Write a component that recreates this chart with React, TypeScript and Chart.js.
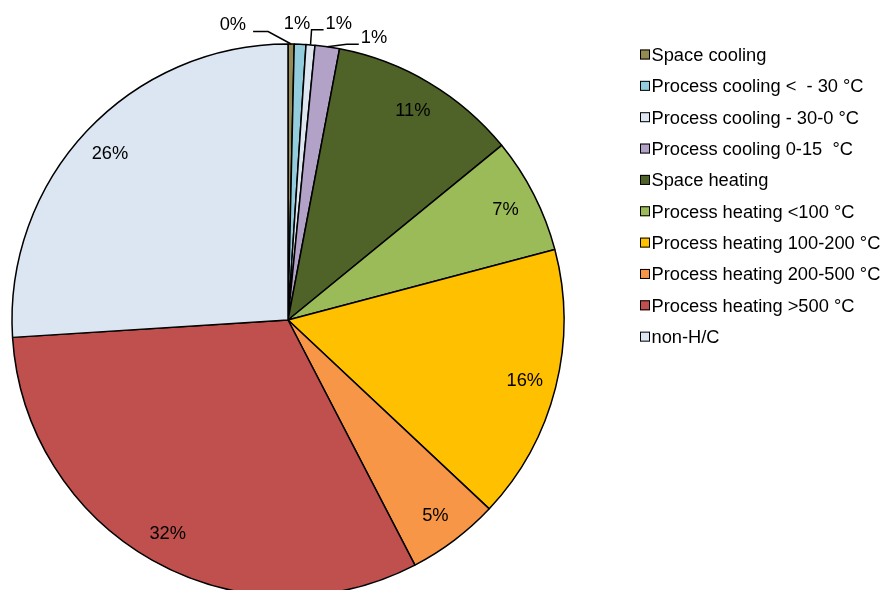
import React, { useEffect, useRef } from "react";
import { Chart, registerables } from "chart.js";

Chart.register(...registerables);

const categories = [
  "Space cooling",
  "Process cooling <  - 30 °C",
  "Process cooling - 30-0 °C",
  "Process cooling 0-15  °C",
  "Space heating",
  "Process heating <100 °C",
  "Process heating 100-200 °C",
  "Process heating 200-500 °C",
  "Process heating >500 °C",
  "non-H/C",
];

const shares = [0.36, 0.68, 0.52, 1.43, 11.1, 6.8, 16.1, 5.4, 31.6, 26.0];

const sliceColors = [
  "#948A54",
  "#93CDDD",
  "#DDE6F1",
  "#B3A2C7",
  "#4F6228",
  "#9BBB59",
  "#FFC000",
  "#F79646",
  "#C0504D",
  "#DCE6F2",
];

// Placement of labels that sit outside their slice (angle offset in degrees from slice middle, radius in px)
const outsidePlacement: Record<number, { offset: number; r: number; side?: "left" | "right" }> = {
  0: { offset: -11.2, r: 301, side: "right" },
  1: { offset: -0.8, r: 298 },
  2: { offset: 5.0, r: 302, side: "left" },
  3: { offset: 8.7, r: 296, side: "left" },
};

const FONT = '18.3px "Liberation Sans", Arial, sans-serif';

const sliceLabelPlugin = {
  id: "sliceLabels",
  afterDatasetsDraw(chart: any) {
    const ctx = chart.ctx;
    const meta = chart.getDatasetMeta(0);
    const total = shares.reduce((a, b) => a + b, 0);
    ctx.save();
    ctx.font = FONT;
    ctx.fillStyle = "#000";
    ctx.strokeStyle = "#000";
    ctx.lineWidth = 1.5;
    ctx.textAlign = "center";
    ctx.textBaseline = "alphabetic";
    meta.data.forEach((arc: any, i: number) => {
      const { x, y, startAngle, endAngle, outerRadius } = arc.getProps(
        ["x", "y", "startAngle", "endAngle", "outerRadius"],
        true
      );
      const mid = (startAngle + endAngle) / 2;
      const text = Math.round((shares[i] / total) * 100) + "%";
      const w = ctx.measureText(text).width;
      const out = outsidePlacement[i];
      if (!out) {
        const r = outerRadius * 0.885;
        const cx = x + Math.cos(mid) * r;
        const cy = y + Math.sin(mid) * r;
        ctx.fillText(text, cx, cy + 6.4);
      } else {
        const a = mid + (out.offset * Math.PI) / 180;
        const cx = x + Math.cos(a) * out.r;
        const cy = y + Math.sin(a) * out.r;
        ctx.fillText(text, cx, cy + 6.4);
        if (out.side) {
          const ax = x + Math.cos(mid) * outerRadius;
          const ay = y + Math.sin(mid) * outerRadius;
          const ly = cy + 7.5;
          let sx: number, ex: number;
          if (out.side === "right") {
            sx = cx + w / 2 + 7;
            ex = sx + 15;
          } else {
            sx = cx - w / 2 - 2;
            ex = sx - 12;
          }
          ctx.beginPath();
          ctx.moveTo(sx, ly);
          ctx.lineTo(ex, ly);
          ctx.lineTo(ax, ay);
          ctx.stroke();
        }
      }
    });
    ctx.restore();
  },
};

const legendPlugin = {
  id: "sideLegend",
  afterDraw(chart: any) {
    const ctx = chart.ctx;
    const labels: string[] = chart.data.labels;
    const colors: string[] = chart.data.datasets[0].backgroundColor;
    ctx.save();
    ctx.font = FONT;
    ctx.textAlign = "left";
    ctx.textBaseline = "alphabetic";
    labels.forEach((lab, i) => {
      const cy = 54.5 + i * 31.35;
      ctx.fillStyle = colors[i];
      ctx.fillRect(640, cy - 5, 10, 10);
      ctx.strokeStyle = "#000";
      ctx.lineWidth = 1;
      ctx.strokeRect(640.5, cy - 4.5, 9, 9);
      ctx.fillStyle = "#000";
      ctx.fillText(lab, 651.5, cy + 6.4);
    });
    ctx.restore();
  },
};

export default function App() {
  const ref = useRef<HTMLCanvasElement | null>(null);
  useEffect(() => {
    if (!ref.current) return;
    const chart = new Chart(ref.current, {
      type: "pie",
      data: {
        labels: categories,
        datasets: [
          {
            data: shares,
            backgroundColor: sliceColors,
            borderColor: "#000",
            borderWidth: 1.5,
            radius: 276,
            clip: false,
          } as any,
        ],
      },
      options: {
        responsive: false,
        animation: false,
        layout: { padding: { left: 0, right: 308, top: 50, bottom: 0 } },
        plugins: {
          legend: { display: false },
          tooltip: { enabled: false },
        },
        events: [],
      },
      plugins: [sliceLabelPlugin, legendPlugin],
    });
    return () => chart.destroy();
  }, []);
  return (
    <div style={{ position: "fixed", left: 0, top: 0, width: 884, height: 590, background: "#fff" }}>
      <canvas ref={ref} width={884} height={590} style={{ display: "block" }} />
    </div>
  );
}
